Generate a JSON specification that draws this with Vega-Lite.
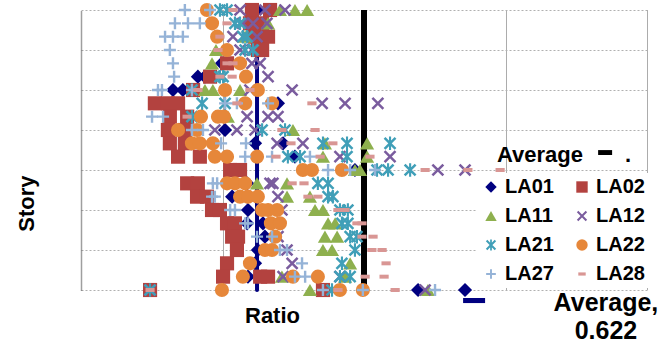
{
  "$schema": "https://vega.github.io/schema/vega-lite/v6.json",
  "width": 566,
  "height": 280,
  "autosize": "none",
  "padding": {"left": 81, "top": 10, "right": 18, "bottom": 56},
  "background": "white",
  "config": {"view": {"stroke": null}, "font": "Liberation Sans"},
  "datasets": {
    "lines": [
      {"name": "one", "r": 1.0, "story": 0, "story2": 21},
      {"name": "avg", "r": 0.622, "story": 0, "story2": 21}
    ],
    "pts": [
      {"s":"LA01","story":21,"r":0.62},{"s":"LA01","story":20,"r":0.60},{"s":"LA01","story":19,"r":0.63},{"s":"LA01","story":18,"r":0.63},
      {"s":"LA01","story":17,"r":0.498},{"s":"LA01","story":16,"r":0.413},{"s":"LA01","story":16,"r":0.438},{"s":"LA01","story":15,"r":0.325},{"s":"LA01","story":15,"r":0.360},
      {"s":"LA01","story":14,"r":0.696},{"s":"LA01","story":12,"r":0.509},{"s":"LA01","story":11,"r":0.615},{"s":"LA01","story":11,"r":0.714},
      {"s":"LA01","story":10,"r":0.756},{"s":"LA01","story":9,"r":0.968},{"s":"LA01","story":8,"r":0.587},{"s":"LA01","story":7,"r":0.534},{"s":"LA01","story":7,"r":0.587},
      {"s":"LA01","story":6,"r":0.590},{"s":"LA01","story":5,"r":0.587},{"s":"LA01","story":5,"r":0.643},{"s":"LA01","story":4,"r":0.650},{"s":"LA01","story":3,"r":0.625},
      {"s":"LA01","story":2,"r":0.615},{"s":"LA01","story":1,"r":0.590},{"s":"LA01","story":0,"r":1.191},{"s":"LA01","story":0,"r":1.357},

      {"s":"LA02","story":21,"r":0.604},{"s":"LA02","story":21,"r":0.668},{"s":"LA02","story":20,"r":0.597},{"s":"LA02","story":20,"r":0.640},
      {"s":"LA02","story":19,"r":0.615},{"s":"LA02","story":19,"r":0.661},{"s":"LA02","story":18,"r":0.625},{"s":"LA02","story":18,"r":0.640},
      {"s":"LA02","story":17,"r":0.516},{"s":"LA02","story":16,"r":0.456},{"s":"LA02","story":15,"r":0.396},
      {"s":"LA02","story":14,"r":0.261},{"s":"LA02","story":14,"r":0.307},{"s":"LA02","story":14,"r":0.343},
      {"s":"LA02","story":13,"r":0.314},{"s":"LA02","story":13,"r":0.375},{"s":"LA02","story":12,"r":0.307},{"s":"LA02","story":12,"r":0.367},
      {"s":"LA02","story":11,"r":0.314},{"s":"LA02","story":11,"r":0.367},{"s":"LA02","story":10,"r":0.343},{"s":"LA02","story":10,"r":0.420},
      {"s":"LA02","story":9,"r":0.527},{"s":"LA02","story":9,"r":0.562},{"s":"LA02","story":8,"r":0.375},{"s":"LA02","story":8,"r":0.413},
      {"s":"LA02","story":7,"r":0.410},{"s":"LA02","story":7,"r":0.445},{"s":"LA02","story":6,"r":0.463},{"s":"LA02","story":6,"r":0.491},
      {"s":"LA02","story":5,"r":0.516},{"s":"LA02","story":5,"r":0.544},{"s":"LA02","story":4,"r":0.534},{"s":"LA02","story":4,"r":0.555},
      {"s":"LA02","story":3,"r":0.551},{"s":"LA02","story":2,"r":0.516},{"s":"LA02","story":1,"r":0.502},{"s":"LA02","story":1,"r":0.633},{"s":"LA02","story":1,"r":0.661},
      {"s":"LA02","story":0,"r":0.244},{"s":"LA02","story":0,"r":0.855},

      {"s":"LA11","story":21,"r":0.703},{"s":"LA11","story":21,"r":0.756},{"s":"LA11","story":21,"r":0.799},{"s":"LA11","story":20,"r":0.661},
      {"s":"LA11","story":19,"r":0.580},{"s":"LA11","story":18,"r":0.477},{"s":"LA11","story":17,"r":0.463},
      {"s":"LA11","story":15,"r":0.438},{"s":"LA11","story":15,"r":0.466},{"s":"LA11","story":15,"r":0.562},{"s":"LA11","story":13,"r":0.519},
      {"s":"LA11","story":12,"r":0.749},{"s":"LA11","story":11,"r":0.862},{"s":"LA11","story":11,"r":1.011},{"s":"LA11","story":10,"r":0.855},{"s":"LA11","story":10,"r":1.011},
      {"s":"LA11","story":9,"r":0.968},{"s":"LA11","story":9,"r":0.986},{"s":"LA11","story":8,"r":0.622},{"s":"LA11","story":8,"r":0.728},
      {"s":"LA11","story":7,"r":0.728},{"s":"LA11","story":7,"r":0.809},{"s":"LA11","story":6,"r":0.827},{"s":"LA11","story":6,"r":0.855},
      {"s":"LA11","story":5,"r":0.873},{"s":"LA11","story":5,"r":0.898},{"s":"LA11","story":4,"r":0.862},{"s":"LA11","story":4,"r":0.905},
      {"s":"LA11","story":3,"r":0.855},{"s":"LA11","story":3,"r":0.887},{"s":"LA11","story":2,"r":0.951},{"s":"LA11","story":1,"r":0.710},{"s":"LA11","story":1,"r":0.933},
      {"s":"LA11","story":0,"r":0.809},{"s":"LA11","story":0,"r":1.226},

      {"s":"LA12","story":21,"r":0.562},{"s":"LA12","story":21,"r":0.650},{"s":"LA12","story":21,"r":0.721},
      {"s":"LA12","story":20,"r":0.572},{"s":"LA12","story":20,"r":0.608},{"s":"LA12","story":20,"r":0.657},
      {"s":"LA12","story":19,"r":0.537},{"s":"LA12","story":19,"r":0.622},{"s":"LA12","story":18,"r":0.562},{"s":"LA12","story":18,"r":0.604},
      {"s":"LA12","story":17,"r":0.604},{"s":"LA12","story":17,"r":0.633},{"s":"LA12","story":16,"r":0.661},
      {"s":"LA12","story":15,"r":0.597},{"s":"LA12","story":15,"r":0.746},
      {"s":"LA12","story":14,"r":0.852},{"s":"LA12","story":14,"r":0.933},{"s":"LA12","story":14,"r":1.049},
      {"s":"LA12","story":13,"r":0.587},{"s":"LA12","story":13,"r":0.661},{"s":"LA12","story":13,"r":0.696},
      {"s":"LA12","story":12,"r":0.473},{"s":"LA12","story":12,"r":0.551},{"s":"LA12","story":12,"r":0.615},
      {"s":"LA12","story":11,"r":0.693},{"s":"LA12","story":11,"r":0.784},{"s":"LA12","story":10,"r":0.915},{"s":"LA12","story":10,"r":1.092},
      {"s":"LA12","story":9,"r":1.261},{"s":"LA12","story":9,"r":1.357},{"s":"LA12","story":8,"r":0.668},{"s":"LA12","story":8,"r":0.678},
      {"s":"LA12","story":7,"r":0.696},{"s":"LA12","story":6,"r":0.710},{"s":"LA12","story":5,"r":0.696},{"s":"LA12","story":4,"r":0.696},
      {"s":"LA12","story":3,"r":0.728},{"s":"LA12","story":2,"r":0.746},{"s":"LA12","story":1,"r":0.714},{"s":"LA12","story":1,"r":0.915},
      {"s":"LA12","story":0,"r":0.244},{"s":"LA12","story":0,"r":1.216},

      {"s":"LA21","story":21,"r":0.491},{"s":"LA21","story":21,"r":0.516},{"s":"LA21","story":20,"r":0.544},{"s":"LA21","story":20,"r":0.562},
      {"s":"LA21","story":19,"r":0.572},{"s":"LA21","story":19,"r":0.587},{"s":"LA21","story":18,"r":0.580},{"s":"LA21","story":18,"r":0.608},
      {"s":"LA21","story":16,"r":0.491},{"s":"LA21","story":16,"r":0.502},{"s":"LA21","story":15,"r":0.392},
      {"s":"LA21","story":14,"r":0.428},{"s":"LA21","story":14,"r":0.509},{"s":"LA21","story":13,"r":0.392},
      {"s":"LA21","story":12,"r":0.640},{"s":"LA21","story":12,"r":0.721},
      {"s":"LA21","story":11,"r":0.855},{"s":"LA21","story":11,"r":0.940},{"s":"LA21","story":11,"r":1.092},
      {"s":"LA21","story":10,"r":0.731},{"s":"LA21","story":10,"r":0.774},{"s":"LA21","story":10,"r":0.940},
      {"s":"LA21","story":9,"r":1.046},{"s":"LA21","story":9,"r":1.085},{"s":"LA21","story":9,"r":1.163},
      {"s":"LA21","story":8,"r":0.837},{"s":"LA21","story":8,"r":0.873},{"s":"LA21","story":7,"r":0.873},{"s":"LA21","story":7,"r":0.890},
      {"s":"LA21","story":6,"r":0.915},{"s":"LA21","story":6,"r":0.943},{"s":"LA21","story":5,"r":0.922},{"s":"LA21","story":5,"r":0.943},
      {"s":"LA21","story":4,"r":0.951},{"s":"LA21","story":4,"r":0.975},{"s":"LA21","story":3,"r":0.968},{"s":"LA21","story":2,"r":0.922},
      {"s":"LA21","story":1,"r":0.915},{"s":"LA21","story":1,"r":0.951},{"s":"LA21","story":0,"r":0.244},{"s":"LA21","story":0,"r":0.887},

      {"s":"LA22","story":21,"r":0.445},{"s":"LA22","story":20,"r":0.463},{"s":"LA22","story":19,"r":0.481},{"s":"LA22","story":18,"r":0.516},
      {"s":"LA22","story":17,"r":0.562},{"s":"LA22","story":16,"r":0.583},{"s":"LA22","story":15,"r":0.509},{"s":"LA22","story":15,"r":0.625},
      {"s":"LA22","story":14,"r":0.580},{"s":"LA22","story":14,"r":0.675},
      {"s":"LA22","story":13,"r":0.424},{"s":"LA22","story":13,"r":0.484},{"s":"LA22","story":13,"r":0.505},
      {"s":"LA22","story":12,"r":0.343},{"s":"LA22","story":12,"r":0.410},
      {"s":"LA22","story":11,"r":0.392},{"s":"LA22","story":11,"r":0.420},{"s":"LA22","story":11,"r":0.466},
      {"s":"LA22","story":10,"r":0.473},{"s":"LA22","story":10,"r":0.516},{"s":"LA22","story":10,"r":0.622},
      {"s":"LA22","story":9,"r":0.784},{"s":"LA22","story":9,"r":0.816},{"s":"LA22","story":9,"r":0.922},
      {"s":"LA22","story":8,"r":0.516},{"s":"LA22","story":8,"r":0.544},{"s":"LA22","story":8,"r":0.580},
      {"s":"LA22","story":7,"r":0.562},{"s":"LA22","story":7,"r":0.590},{"s":"LA22","story":7,"r":0.625},
      {"s":"LA22","story":6,"r":0.640},{"s":"LA22","story":6,"r":0.661},{"s":"LA22","story":6,"r":0.693},
      {"s":"LA22","story":5,"r":0.671},{"s":"LA22","story":5,"r":0.703},{"s":"LA22","story":4,"r":0.686},
      {"s":"LA22","story":3,"r":0.650},{"s":"LA22","story":3,"r":0.675},{"s":"LA22","story":2,"r":0.597},
      {"s":"LA22","story":1,"r":0.572},{"s":"LA22","story":1,"r":0.749},{"s":"LA22","story":1,"r":0.837},
      {"s":"LA22","story":0,"r":0.498},{"s":"LA22","story":0,"r":0.915},{"s":"LA22","story":0,"r":0.996},

      {"s":"LA27","story":21,"r":0.367},{"s":"LA27","story":21,"r":0.456},
      {"s":"LA27","story":20,"r":0.332},{"s":"LA27","story":20,"r":0.378},{"s":"LA27","story":20,"r":0.420},
      {"s":"LA27","story":19,"r":0.297},{"s":"LA27","story":19,"r":0.325},{"s":"LA27","story":19,"r":0.360},
      {"s":"LA27","story":18,"r":0.314},{"s":"LA27","story":17,"r":0.325},{"s":"LA27","story":16,"r":0.329},
      {"s":"LA27","story":15,"r":0.272},{"s":"LA27","story":15,"r":0.286},{"s":"LA27","story":15,"r":0.392},
      {"s":"LA27","story":14,"r":0.509},{"s":"LA27","story":14,"r":0.551},{"s":"LA27","story":14,"r":0.661},
      {"s":"LA27","story":13,"r":0.251},{"s":"LA27","story":13,"r":0.290},{"s":"LA27","story":12,"r":0.392},{"s":"LA27","story":12,"r":0.431},
      {"s":"LA27","story":11,"r":0.495},{"s":"LA27","story":11,"r":0.583},
      {"s":"LA27","story":10,"r":0.580},{"s":"LA27","story":10,"r":0.675},{"s":"LA27","story":10,"r":0.809},
      {"s":"LA27","story":9,"r":0.873},{"s":"LA27","story":9,"r":0.951},{"s":"LA27","story":9,"r":1.039},
      {"s":"LA27","story":8,"r":0.466},{"s":"LA27","story":8,"r":0.481},{"s":"LA27","story":7,"r":0.463},{"s":"LA27","story":7,"r":0.473},
      {"s":"LA27","story":6,"r":0.527},{"s":"LA27","story":6,"r":0.544},{"s":"LA27","story":5,"r":0.580},{"s":"LA27","story":5,"r":0.590},
      {"s":"LA27","story":4,"r":0.622},{"s":"LA27","story":4,"r":0.675},{"s":"LA27","story":3,"r":0.703},{"s":"LA27","story":3,"r":0.728},
      {"s":"LA27","story":2,"r":0.781},{"s":"LA27","story":1,"r":0.756},{"s":"LA27","story":1,"r":0.792},
      {"s":"LA27","story":0,"r":0.855},{"s":"LA27","story":0,"r":0.996},{"s":"LA27","story":0,"r":1.251},

      {"s":"LA28","story":21,"r":0.537},{"s":"LA28","story":20,"r":0.516},{"s":"LA28","story":19,"r":0.491},{"s":"LA28","story":18,"r":0.484},
      {"s":"LA28","story":17,"r":0.516},{"s":"LA28","story":17,"r":0.537},{"s":"LA28","story":16,"r":0.491},{"s":"LA28","story":16,"r":0.534},
      {"s":"LA28","story":15,"r":0.413},{"s":"LA28","story":15,"r":0.597},{"s":"LA28","story":14,"r":0.551},{"s":"LA28","story":14,"r":0.816},
      {"s":"LA28","story":13,"r":0.375},{"s":"LA28","story":12,"r":0.710},{"s":"LA28","story":12,"r":0.827},
      {"s":"LA28","story":11,"r":0.742},{"s":"LA28","story":11,"r":0.890},
      {"s":"LA28","story":10,"r":0.689},{"s":"LA28","story":10,"r":0.845},{"s":"LA28","story":10,"r":1.021},
      {"s":"LA28","story":9,"r":1.216},{"s":"LA28","story":9,"r":1.367},{"s":"LA28","story":9,"r":1.481},
      {"s":"LA28","story":8,"r":0.746},{"s":"LA28","story":8,"r":0.788},{"s":"LA28","story":7,"r":0.802},{"s":"LA28","story":7,"r":0.837},
      {"s":"LA28","story":6,"r":0.908},{"s":"LA28","story":6,"r":0.933},{"s":"LA28","story":5,"r":0.975},{"s":"LA28","story":5,"r":0.993},
      {"s":"LA28","story":4,"r":0.993},{"s":"LA28","story":4,"r":1.032},{"s":"LA28","story":3,"r":1.028},{"s":"LA28","story":3,"r":1.064},
      {"s":"LA28","story":2,"r":1.078},{"s":"LA28","story":1,"r":1.004},{"s":"LA28","story":1,"r":1.071},
      {"s":"LA28","story":0,"r":0.244},{"s":"LA28","story":0,"r":0.908},{"s":"LA28","story":0,"r":1.110}
    ],
    "labels": [
      {"t": "Average", "r": 1.47, "story": 9.6},
      {"t": ".", "r": 1.922, "story": 9.6}
    ],
    "avglabel": [
      {"t": ["Average,", "0.622"], "r": 1.855, "story": -1.58}
    ],
    "navydash": [{"r": 1.389, "story": -0.79}],
    "blackdash": [{"r": 1.852, "story": 10.31}]
  },
  "encoding": {
    "x": {"field": "r", "type": "quantitative", "scale": {"domain": [0, 2], "nice": false, "zero": false},
      "axis": {"values": [0.5, 1, 1.5, 2], "tickCount": 4, "labels": false, "ticks": false, "domain": false,
        "grid": true, "gridColor": "#595959", "gridDash": [1, 1], "gridWidth": 1,
        "title": "Ratio", "titleFont": "Liberation Sans", "titleFontSize": 22, "titleFontWeight": "bold", "titleColor": "black",
        "titleX": 191, "titleY": 32, "titleBaseline": "alphabetic", "titleAlign": "center"}},
    "y": {"field": "story", "type": "quantitative", "scale": {"domain": [0, 21], "nice": false, "zero": false},
      "axis": {"values": [0, 3, 6, 9, 12, 15, 18, 21], "tickCount": 8, "labels": false, "ticks": false,
        "domain": true, "domainColor": "#404040", "domainDash": [1, 1], "domainWidth": 1.5,
        "grid": true, "gridColor": "#B0B0B0", "gridDash": [2, 2], "gridWidth": 1,
        "title": "Story", "titleFont": "Liberation Sans", "titleFontSize": 22, "titleFontWeight": "bold", "titleColor": "black",
        "titleX": -48, "titleY": 193, "titleBaseline": "alphabetic", "titleAlign": "center", "titleAngle": 270}}
  },
  "layer": [
    {
      "data": {"name": "lines"},
      "transform": [{"filter": "datum.name === 'one'"}],
      "mark": {"type": "rule", "color": "black", "strokeWidth": 6},
      "encoding": {"y2": {"field": "story2"}}
    },
    {
      "data": {"name": "lines"},
      "transform": [{"filter": "datum.name === 'avg'"}],
      "mark": {"type": "rule", "color": "#000080", "strokeWidth": 4, "strokeCap": "round"},
      "encoding": {"y2": {"field": "story2"}}
    },
    {
      "data": {"name": "pts"},
      "mark": {"type": "point", "filled": true, "opacity": 1, "size": 200},
      "encoding": {
        "color": {"field": "s", "type": "nominal",
          "scale": {"domain": ["LA01","LA11","LA21","LA27","LA02","LA12","LA22","LA28"],
            "range": ["#000080","#8EB04E","#409FB8","#95B3D7","#B3423F","#7A5C9E","#E6873A","#D99694"]},
          "legend": {"orient": "none", "legendX": 396, "legendY": 163, "columns": 2, "title": null,
            "labelFont": "Liberation Sans", "labelFontSize": 20, "labelFontWeight": "bold", "labelColor": "black",
            "symbolSize": 130, "symbolStrokeWidth": 0, "columnPadding": 18, "rowPadding": 9, "labelOffset": 4,
            "fillColor": "white", "padding": 4}},
        "shape": {"field": "s", "type": "nominal",
          "scale": {"domain": ["LA01","LA11","LA21","LA27","LA02","LA12","LA22","LA28"],
            "range": ["diamond", "triangle-up",
              "M-0.9,-0.65L-0.65,-0.9L0.9,0.65L0.65,0.9ZM0.65,-0.9L0.9,-0.65L-0.65,0.9L-0.9,0.65ZM-0.15,-0.95H0.15V0.95H-0.15Z",
              "M-0.17,-0.85H0.17V0.85H-0.17ZM-0.85,-0.17H0.85V0.17H-0.85Z",
              "square",
              "M-0.9,-0.65L-0.65,-0.9L0.9,0.65L0.65,0.9ZM0.65,-0.9L0.9,-0.65L-0.65,0.9L-0.9,0.65Z",
              "circle",
              "M-0.65,-0.28H0.65V0.28H-0.65Z"]},
          "legend": {"orient": "none", "legendX": 396, "legendY": 163, "columns": 2, "title": null,
            "labelFont": "Liberation Sans", "labelFontSize": 20, "labelFontWeight": "bold", "labelColor": "black",
            "symbolSize": 130, "symbolStrokeWidth": 0, "columnPadding": 18, "rowPadding": 9, "labelOffset": 4,
            "fillColor": "white", "padding": 4}}
      }
    },
    {
      "data": {"name": "labels"},
      "mark": {"type": "text", "align": "left", "baseline": "alphabetic", "font": "Liberation Sans", "fontSize": 22, "fontWeight": "bold", "color": "black"},
      "encoding": {"text": {"field": "t"}}
    },
    {
      "data": {"name": "blackdash"},
      "mark": {"type": "point", "filled": true, "opacity": 1, "color": "black", "size": 196, "shape": "M-1,-0.35H1V0.35H-1Z"},
      "encoding": {}
    },
    {
      "data": {"name": "navydash"},
      "mark": {"type": "point", "filled": true, "opacity": 1, "color": "#000080", "size": 484, "shape": "M-1,-0.23H1V0.23H-1Z"},
      "encoding": {}
    },
    {
      "data": {"name": "avglabel"},
      "mark": {"type": "text", "align": "center", "baseline": "alphabetic", "font": "Liberation Sans", "fontSize": 25, "fontWeight": "bold", "color": "black", "lineHeight": 28},
      "encoding": {"text": {"field": "t"}}
    }
  ]
}
